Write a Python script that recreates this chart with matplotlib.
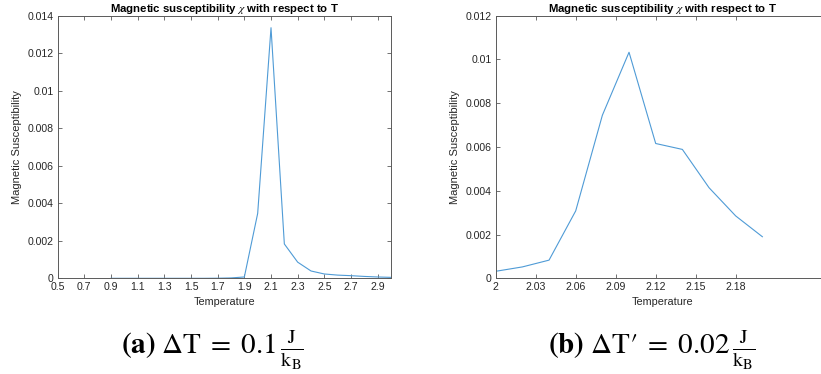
import matplotlib
matplotlib.use("Agg")
import matplotlib.pyplot as plt

plt.rcParams['font.family'] = ['Liberation Sans', 'DejaVu Sans']
plt.rcParams['mathtext.fontset'] = 'stix'

# Panel (a) data
temp_a = [0.9, 1.0, 1.1, 1.2, 1.3, 1.4, 1.5, 1.6, 1.7, 1.8, 1.9, 2.0, 2.1,
          2.2, 2.3, 2.4, 2.5, 2.6, 2.7, 2.8, 2.9, 3.0]
chi_a = [0.0, 0.0, 0.0, 0.0, 0.0, 0.0, 0.0, 0.0, 0.000005, 0.00002, 0.00007,
         0.00346, 0.01336, 0.00183, 0.00086, 0.00039, 0.00023, 0.00017,
         0.00014, 0.00010, 0.00007, 0.00005]
xticks_a = [0.5, 0.7, 0.9, 1.1, 1.3, 1.5, 1.7, 1.9, 2.1, 2.3, 2.5, 2.7, 2.9]
yticks_a = [0, 0.002, 0.004, 0.006, 0.008, 0.01, 0.012, 0.014]
yticklabels_a = ['0', '0.002', '0.004', '0.006', '0.008', '0.01', '0.012', '0.014']

# Panel (b) data
temp_b = [2.00, 2.02, 2.04, 2.06, 2.08, 2.10, 2.12, 2.14, 2.16, 2.18, 2.20]
chi_b = [0.00032, 0.00052, 0.00083, 0.00308, 0.00745, 0.01033, 0.00616,
         0.00589, 0.00414, 0.00285, 0.00190]
xticks_b = [2.0, 2.03, 2.06, 2.09, 2.12, 2.15, 2.18]
xticklabels_b = ['2', '2.03', '2.06', '2.09', '2.12', '2.15', '2.18']
yticks_b = [0, 0.002, 0.004, 0.006, 0.008, 0.01, 0.012]
yticklabels_b = ['0', '0.002', '0.004', '0.006', '0.008', '0.01', '0.012']

W, H = 821, 374
fig = plt.figure(figsize=(W / 100, H / 100), dpi=100)

def px(x0, y0, x1, y1):
    return [x0 / W, 1 - y1 / H, (x1 - x0) / W, (y1 - y0) / H]

line_color = '#4f9bd6'
spine_color = '#5a5a5a'
text_color = '#262626'

def style(ax):
    for s in ax.spines.values():
        s.set_color(spine_color)
        s.set_linewidth(0.7)
    ax.tick_params(direction='in', length=3, width=0.6, color=spine_color,
                   top=True, right=True, labelsize=7.6, labelcolor=text_color, pad=3)
    ax.set_title(r'Magnetic susceptibility $\chi$ with respect to T',
                 fontsize=8.2, fontweight='bold', color='black', pad=3)
    ax.set_xlabel('Temperature', fontsize=7.8, color=text_color, labelpad=3)
    ax.set_ylabel('Magnetic Susceptibility', fontsize=8, color=text_color, labelpad=4)

ax1 = fig.add_axes(px(57.7, 15.7, 391, 278.3))
ax1.plot(temp_a, chi_a, color=line_color, lw=0.8)
ax1.set_xlim(0.5, 3.0)
ax1.set_ylim(0, 0.014)
ax1.set_xticks(xticks_a)
ax1.set_xticklabels([f'{v:g}' for v in xticks_a])
ax1.set_yticks(yticks_a)
ax1.set_yticklabels(yticklabels_a)
style(ax1)

ax2 = fig.add_axes(px(495.7, 15.7, 495.7 + 0.25 * 1333.3, 278.3))
ax2.plot(temp_b, chi_b, color=line_color, lw=0.8)
ax2.set_xlim(2.0, 2.25)
ax2.set_ylim(0, 0.012)
ax2.set_xticks(xticks_b)
ax2.set_xticklabels(xticklabels_b)
ax2.set_yticks(yticks_b)
ax2.set_yticklabels(yticklabels_b)
style(ax2)

fig.text(212 / W, 1 - 355 / H,
         r'$\mathbf{(a)}\ \Delta\mathrm{T}\;=\;0.1\,\frac{\mathrm{J}}{\mathrm{k_B}}$',
         fontsize=21, ha='center', va='baseline')
fig.text(652 / W, 1 - 355 / H,
         r"$\mathbf{(b)}\ \Delta\mathrm{T}\prime\;=\;0.02\,\frac{\mathrm{J}}{\mathrm{k_B}}$",
         fontsize=21, ha='center', va='baseline')

fig.savefig('out.png', dpi=100)
